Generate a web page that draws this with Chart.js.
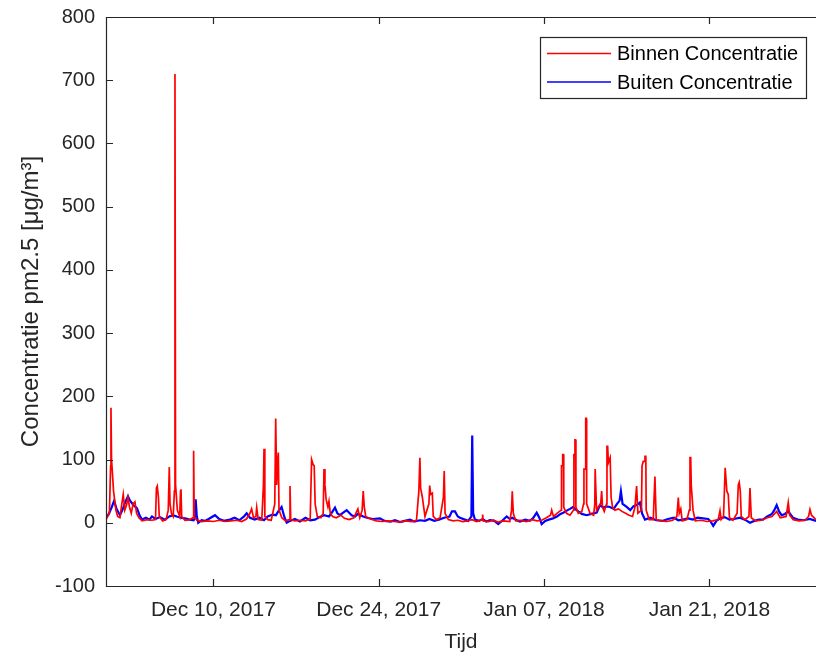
<!DOCTYPE html>
<html>
<head>
<meta charset="utf-8">
<script src="https://cdn.jsdelivr.net/npm/chart.js@4.4.1/dist/chart.umd.min.js"></script>
<style>
  html, body { margin: 0; padding: 0; background: #fff; overflow: hidden; }
  #wrap { width: 816px; height: 658px; position: relative; }
</style>
</head>
<body>
<div id="wrap"><canvas id="pm" width="816" height="658"></canvas></div>
<script>
// Time axis: days since 1 Dec 2017 00:00
const xMin = -0.09;
const xMax = 60.03;
const tickDagen = [9, 23, 37, 51];
const tickLabels = ['Dec 10, 2017', 'Dec 24, 2017', 'Jan 07, 2018', 'Jan 21, 2018'];

// Indoor PM2.5 (µg/m³)
const binnenDagen = [
  -0.09, 0.20, 0.30, 0.33, 0.38, 0.45, 0.55, 0.65, 0.75, 0.9, 1.09, 1.25, 1.37, 1.50, 1.65, 1.77, 1.9, 2.05, 2.20, 2.36,
  2.5, 2.7, 2.96, 3.4, 3.80, 4.10, 4.18, 4.25, 4.35, 4.42, 4.7, 5.0, 5.18, 5.27, 5.33, 5.45, 5.60, 5.70, 5.75, 5.80,
  5.95, 6.15, 6.22, 6.26, 6.32, 6.6, 7.0, 7.28, 7.33, 7.38, 7.6, 8.0, 8.5, 9.0, 9.5, 10.0, 10.5, 11.0, 11.4, 11.8,
  12.1, 12.24, 12.4, 12.6, 12.67, 12.8, 13.1, 13.24, 13.29, 13.36, 13.6, 13.9, 14.20, 14.28, 14.36, 14.45, 14.50, 14.56, 14.8, 15.1,
  15.42, 15.49, 15.55, 15.9, 16.33, 16.8, 17.2, 17.32, 17.45, 17.54, 17.62, 17.8, 18.1, 18.30, 18.37, 18.45, 18.55, 18.70, 18.79, 18.9,
  19.1, 19.4, 19.8, 20.1, 20.5, 20.9, 21.24, 21.4, 21.60, 21.69, 21.78, 21.9, 22.3, 22.8, 23.3, 23.8, 24.3, 24.8, 25.3, 25.8,
  26.2, 26.40, 26.49, 26.55, 26.70, 26.92, 27.25, 27.32, 27.40, 27.54, 27.62, 27.9, 28.2, 28.48, 28.55, 28.62, 28.9, 29.3, 29.7, 30.1,
  30.5, 30.9, 31.3, 31.75, 31.80, 31.85, 32.3, 32.7, 33.1, 33.6, 34.1, 34.25, 34.31, 34.40, 34.6, 35.0, 35.5, 36.0, 36.4, 36.8,
  37.2, 37.55, 37.65, 37.8, 38.1, 38.45, 38.48, 38.55, 38.58, 38.64, 38.67, 38.9, 39.2, 39.50, 39.53, 39.58, 39.62, 39.67, 39.70, 39.9,
  40.2, 40.35, 40.38, 40.48, 40.53, 40.58, 40.61, 40.9, 41.2, 41.30, 41.33, 41.40, 41.45, 41.6, 41.80, 41.88, 41.95, 42.1, 42.30, 42.33,
  42.39, 42.45, 42.50, 42.60, 42.65, 42.68, 42.8, 43.0, 43.3, 43.6, 43.9, 44.2, 44.5, 44.70, 44.84, 44.95, 45.25, 45.30, 45.35, 45.40,
  45.48, 45.55, 45.62, 45.65, 45.9, 46.25, 46.39, 46.50, 46.9, 47.4, 47.9, 48.25, 48.37, 48.45, 48.58, 48.7, 49.1, 49.30, 49.36, 49.42,
  49.47, 49.52, 49.62, 49.8, 50.3, 50.8, 51.3, 51.75, 51.90, 52.0, 52.2, 52.34, 52.38, 52.48, 52.60, 52.70, 53.0, 53.35, 53.45, 53.53,
  53.62, 53.70, 54.0, 54.35, 54.44, 54.55, 54.9, 55.4, 55.9, 56.3, 56.7, 57.0, 57.5, 57.68, 57.8, 58.1, 58.6, 59.1, 59.40, 59.52,
  59.65, 60.03
];
const binnenWaarden = [
  5, 15, 90, 182, 100, 80, 50, 35, 20, 10, 8, 30, 45, 20, 28, 40, 25, 15, 30, 33,
  15, 8, 3, 5, 4, 5, 55, 58, 40, 10, 3, 5, 20, 88, 30, 15, 10, 50, 710, 60,
  20, 10, 50, 53, 10, 4, 5, 8, 114, 10, 4, 2, 3, 2, 4, 2, 3, 4, 2, 6,
  15, 22, 8, 10, 24, 5, 4, 60, 117, 10, 5, 4, 30, 165, 60, 100, 111, 20, 8, 3,
  5, 58, 5, 3, 4, 3, 6, 100, 92, 90, 30, 10, 8, 15, 85, 60, 37, 25, 34, 15,
  10, 8, 12, 7, 5, 8, 22, 8, 20, 50, 25, 10, 6, 3, 2, 3, 2, 1, 3, 2,
  4, 50, 103, 55, 40, 10, 30, 59, 45, 47, 10, 5, 8, 40, 82, 15, 5, 3, 4, 2,
  3, 5, 2, 5, 13, 3, 2, 4, 1, 3, 2, 20, 50, 15, 3, 4, 2, 5, 3, 4,
  8, 12, 20, 10, 15, 20, 90, 90, 108, 108, 25, 15, 12, 20, 108, 108, 131, 131, 25, 15,
  18, 30, 85, 85, 165, 165, 30, 15, 12, 30, 85, 85, 20, 25, 30, 50, 25, 18, 30, 121,
  121, 95, 95, 103, 103, 40, 25, 20, 22, 18, 15, 12, 10, 25, 58, 15, 20, 90, 90, 97,
  97, 105, 105, 20, 5, 5, 73, 5, 3, 2, 4, 10, 40, 15, 22, 3, 5, 20, 103, 103,
  58, 58, 20, 3, 4, 2, 3, 5, 19, 5, 10, 87, 87, 50, 45, 8, 4, 15, 60, 64,
  50, 10, 5, 10, 55, 8, 3, 4, 8, 10, 18, 8, 10, 32, 12, 5, 3, 4, 10, 21,
  12, 5
];

// Outdoor PM2.5 (µg/m³)
const buitenDagen = [
  -0.09, 0.15, 0.40, 0.60, 0.80, 1.09, 1.30, 1.55, 1.77, 1.95, 2.19, 2.40, 2.53, 2.75, 2.96, 3.3, 3.6, 3.80, 4.1, 4.48,
  4.9, 5.27, 5.58, 5.9, 6.26, 6.6, 7.0, 7.33, 7.44, 7.50, 7.60, 7.72, 8.0, 8.29, 8.6, 9.14, 9.5, 9.9, 10.41, 10.8,
  11.2, 11.6, 11.82, 12.1, 12.5, 12.9, 13.29, 13.6, 14.02, 14.3, 14.5, 14.78, 15.0, 15.21, 15.5, 15.9, 16.33, 16.8, 17.2, 17.6,
  18.0, 18.37, 18.8, 19.1, 19.30, 19.5, 19.72, 20.0, 20.29, 20.5, 20.71, 21.0, 21.24, 21.69, 22.0, 22.5, 23.11, 23.5, 24.0, 24.38,
  24.8, 25.2, 25.65, 26.0, 26.49, 26.92, 27.3, 27.7, 28.1, 28.55, 29.0, 29.20, 29.46, 29.70, 29.88, 30.3, 30.58, 30.85, 30.92, 31.0,
  31.15, 31.5, 31.80, 32.1, 32.42, 32.8, 33.12, 33.5, 33.84, 34.1, 34.31, 34.7, 34.96, 35.4, 35.8, 36.1, 36.38, 36.6, 36.80, 37.1,
  37.4, 37.76, 38.1, 38.4, 38.63, 39.0, 39.2, 39.47, 39.62, 39.90, 40.2, 40.61, 41.0, 41.46, 41.74, 42.0, 42.3, 42.58, 42.9, 43.15,
  43.40, 43.51, 43.65, 44.00, 44.3, 44.56, 44.84, 45.12, 45.30, 45.55, 46.0, 46.5, 47.07, 47.5, 48.0, 48.37, 48.76, 49.2, 49.6, 50.0,
  50.46, 50.9, 51.1, 51.33, 51.6, 51.90, 52.3, 52.7, 53.1, 53.59, 54.0, 54.44, 54.8, 55.2, 55.54, 55.9, 56.3, 56.50, 56.70, 56.9,
  57.12, 57.4, 57.68, 58.08, 58.5, 59.0, 59.5, 60.03
];
const buitenWaarden = [
  8, 14, 25, 35, 22, 12, 20, 33, 42, 35, 29, 25, 23, 12, 5, 8, 5, 10, 6, 9,
  5, 10, 12, 10, 8, 7, 5, 4, 8, 37, 10, 0, 4, 3, 6, 12, 6, 3, 5, 8,
  4, 10, 15, 8, 5, 8, 4, 10, 13, 12, 18, 25, 10, 0, 3, 6, 2, 8, 4, 5,
  9, 12, 10, 18, 24, 15, 12, 16, 20, 16, 12, 10, 14, 10, 8, 6, 7, 3, 2, 4,
  1, 3, 5, 2, 4, 3, 6, 3, 5, 8, 10, 18, 18, 10, 8, 5, 3, 10, 138, 15,
  5, 3, 6, 2, 4, 3, -2, 4, 10, 6, 8, 4, 2, 5, 3, 8, 16, 8, -2, 3,
  5, 7, 10, 14, 16, 20, 22, 25, 22, 18, 14, 12, 14, 16, 28, 24, 26, 25, 22, 29,
  35, 50, 30, 25, 20, 26, 28, 32, 15, 5, 8, 4, 3, 6, 8, 4, 5, 7, 5, 8,
  7, 6, 2, -5, 3, 7, 9, 5, 6, 8, 5, 0, 3, 5, 5, 10, 14, 20, 28, 18,
  12, 14, 18, 8, 5, 4, 6, 3
];

const reeksNamen = ['Binnen Concentratie', 'Buiten Concentratie'];
const reeksKleuren = ['#ff0000', '#0000ff'];

const asKleur = '#262626';

const toPoints = (xs, ys) => xs.map((d, i) => ({ x: d, y: ys[i] }));

// Axes box with inward tick marks (left, top, bottom)
const axisBox = {
  id: 'axisBox',
  afterDatasetsDraw(chart) {
    const { ctx, chartArea: a, scales: { x, y } } = chart;
    ctx.save();
    ctx.strokeStyle = asKleur;
    ctx.lineWidth = 1.2;
    ctx.beginPath();
    ctx.moveTo(a.right + 2, a.top + 0.5);
    ctx.lineTo(a.left + 0.5, a.top + 0.5);
    ctx.lineTo(a.left + 0.5, a.bottom + 0.5);
    ctx.lineTo(a.right + 2, a.bottom + 0.5);
    x.ticks.forEach(t => {
      const px = Math.round(x.getPixelForValue(t.value)) + 0.5;
      ctx.moveTo(px, a.bottom); ctx.lineTo(px, a.bottom - 7);
      ctx.moveTo(px, a.top); ctx.lineTo(px, a.top + 7);
    });
    y.ticks.forEach(t => {
      const py = Math.round(y.getPixelForValue(t.value)) + 0.5;
      ctx.moveTo(a.left, py); ctx.lineTo(a.left + 7, py);
    });
    ctx.stroke();
    ctx.restore();
  }
};

// Boxed legend in the upper right of the plot area
const boxLegend = {
  id: 'boxLegend',
  afterDraw(chart) {
    const { ctx } = chart;
    const bx = 540, by = 37, bw = 266, bh = 61;
    ctx.save();
    ctx.fillStyle = '#ffffff';
    ctx.fillRect(bx, by, bw, bh);
    ctx.strokeStyle = asKleur;
    ctx.lineWidth = 1.2;
    ctx.strokeRect(bx + 0.5, by + 0.5, bw, bh);
    ctx.font = '20px "Liberation Sans", Arial, sans-serif';
    ctx.textBaseline = 'middle';
    ctx.textAlign = 'left';
    chart.data.datasets.forEach((ds, i) => {
      const ly = by + 16.5 + i * 28.5;
      ctx.strokeStyle = ds.borderColor;
      ctx.lineWidth = 1.5;
      ctx.beginPath();
      ctx.moveTo(547, ly); ctx.lineTo(611, ly);
      ctx.stroke();
      ctx.fillStyle = '#000000';
      ctx.fillText(ds.label, 617, ly + 1);
    });
    ctx.restore();
  }
};

new Chart(document.getElementById('pm'), {
  type: 'line',
  data: {
    datasets: [
      {
        label: reeksNamen[0],
        data: toPoints(binnenDagen, binnenWaarden),
        borderColor: reeksKleuren[0],
        borderWidth: 1.7,
        pointRadius: 0,
        tension: 0,
        fill: false
      },
      {
        label: reeksNamen[1],
        data: toPoints(buitenDagen, buitenWaarden),
        borderColor: reeksKleuren[1],
        borderWidth: 2.2,
        pointRadius: 0,
        tension: 0,
        fill: false
      }
    ]
  },
  options: {
    responsive: false,
    animation: false,
    devicePixelRatio: 1,
    layout: { padding: { top: 17, right: 0, left: 0, bottom: 0 } },
    plugins: {
      legend: { display: false },
      tooltip: { enabled: false }
    },
    scales: {
      x: {
        type: 'linear',
        min: xMin,
        max: xMax,
        afterBuildTicks: s => { s.ticks = tickDagen.map(v => ({ value: v })); },
        afterFit: s => { s.height = 72; s.paddingLeft = 0; s.paddingRight = 0; },
        grid: { display: false, drawTicks: false },
        border: { display: false },
        ticks: {
          autoSkip: false,
          maxRotation: 0,
          padding: 12,
          color: asKleur,
          font: { family: '"Liberation Sans", Arial, sans-serif', size: 21 },
          callback: v => tickLabels[tickDagen.indexOf(v)]
        },
        title: {
          display: true,
          text: 'Tijd',
          color: asKleur,
          font: { family: '"Liberation Sans", Arial, sans-serif', size: 21 },
          padding: { top: 0, bottom: 3 }
        }
      },
      y: {
        min: -100,
        max: 800,
        afterFit: s => { s.width = 106; s.paddingTop = 0; s.paddingBottom = 0; },
        grid: { display: false, drawTicks: false },
        border: { display: false },
        ticks: {
          stepSize: 100,
          padding: 11,
          color: asKleur,
          font: { family: '"Liberation Sans", Arial, sans-serif', size: 20 }
        },
        title: {
          display: true,
          text: 'Concentratie pm2.5 [μg/m³]',
          color: asKleur,
          font: { family: '"Liberation Sans", Arial, sans-serif', size: 24 },
          padding: { top: 17, bottom: 0 }
        }
      }
    }
  },
  plugins: [axisBox, boxLegend]
});
</script>
</body>
</html>
